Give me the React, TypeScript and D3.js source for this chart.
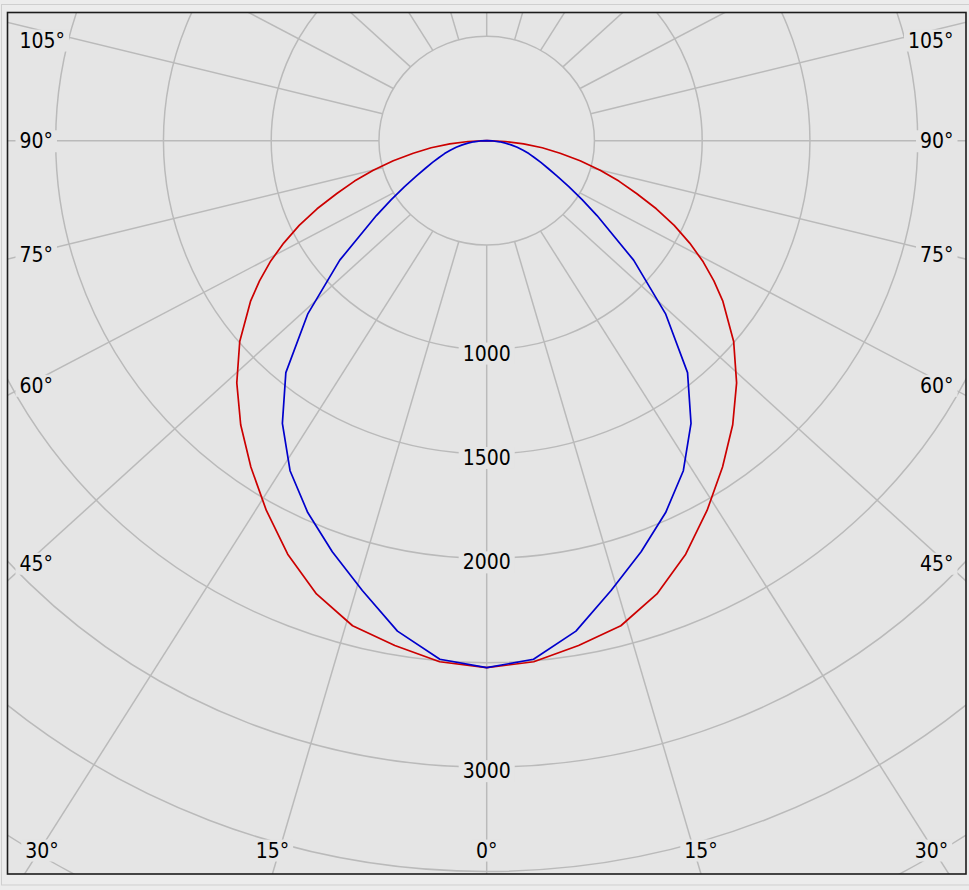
import React, { useEffect, useRef } from "react";
import * as d3 from "d3";

// ---- data ----
const gammaAngles = [0, 5, 10, 15, 20, 25, 30, 35, 40, 45, 50, 55, 57.5, 60, 62.5, 65, 67.5, 70, 72.5, 75, 77.5, 80, 82.5, 85, 87.5, 90];
const redC0C180 = [2524, 2505, 2455, 2405, 2310, 2185, 2045, 1908, 1776, 1640, 1496, 1337, 1250, 1160, 1062, 960, 852, 740, 643, 545, 444, 346, 260, 172, 86, 0];
const blueC90C270 = [2524, 2493, 2385, 2230, 2095, 1965, 1825, 1653, 1450, 1175, 890, 625, 525, 440, 370, 315, 272, 235, 205, 175, 145, 115, 88, 60, 30, 0];
const ringValues = [500, 1000, 1500, 2000, 2500, 3000, 3500, 4000, 4500];
const ringLabels = [1000, 1500, 2000, 3000];
const gridAngles = d3.range(0, 360, 15);
const angleLabels = [0, 15, 30, 45, 60, 75, 90, 105];

const W = 969;
const H = 890;
const CX = 486.7;
const CY = 140.7;
const FONT = "'DejaVu Sans Condensed', 'DejaVu Sans', sans-serif";
const FS = 21;

export default function App() {
  const ref = useRef<SVGSVGElement | null>(null);

  useEffect(() => {
    const svg = d3.select(ref.current);
    svg.selectAll("*").remove();

    const rx = d3.scaleLinear().domain([0, 1000]).range([0, 215.5]);
    const ry = d3.scaleLinear().domain([0, 1000]).range([0, 208.8]);
    const box = { x0: 7.5, y0: 12.5, x1: 966, y1: 874 };

    svg.append("rect").attr("x", 0).attr("y", 0).attr("width", W).attr("height", H).attr("fill", "#ececec");
    svg.append("rect").attr("x", 1.5).attr("y", 4.5).attr("width", W).attr("height", 880.5)
      .attr("fill", "none").attr("stroke", "#cfcfcf").attr("stroke-width", 1);

    const defs = svg.append("defs");
    defs.append("clipPath").attr("id", "plotclip").append("rect")
      .attr("x", box.x0).attr("y", box.y0).attr("width", box.x1 - box.x0).attr("height", box.y1 - box.y0);

    svg.append("rect").attr("x", box.x0).attr("y", box.y0).attr("width", box.x1 - box.x0).attr("height", box.y1 - box.y0)
      .attr("fill", "#e5e5e5");

    const g = svg.append("g").attr("clip-path", "url(#plotclip)");
    const gridColor = "#bababa";

    // rings
    g.selectAll("ellipse.ring").data(ringValues).join("ellipse")
      .attr("class", "ring")
      .attr("cx", CX).attr("cy", CY)
      .attr("rx", (v) => rx(v)).attr("ry", (v) => ry(v))
      .attr("fill", "none").attr("stroke", gridColor).attr("stroke-width", 1.5);

    // radial lines
    const inner = ringValues[0];
    const rad = (a: number) => (a * Math.PI) / 180;
    const lineStart = (a: number) => [CX + rx(inner) * Math.sin(rad(a)), CY + ry(inner) * Math.cos(rad(a))];
    const lineDir = (a: number) => [1.1 * Math.sin(rad(a)), Math.cos(rad(a))];
    g.selectAll("line.radial").data(gridAngles).join("line")
      .attr("class", "radial")
      .attr("x1", (a) => lineStart(a)[0]).attr("y1", (a) => lineStart(a)[1])
      .attr("x2", (a) => lineStart(a)[0] + 2000 * lineDir(a)[0])
      .attr("y2", (a) => lineStart(a)[1] + 2000 * lineDir(a)[1])
      .attr("stroke", gridColor).attr("stroke-width", 1.5);

    const labelsG = g.append("g");
    const addLabel = (text: string, x: number, cy: number, anchor: string) => {
      const lg = labelsG.append("g");
      const bg = lg.append("rect").attr("fill", "#e5e5e5");
      const t = lg.append("text")
        .attr("x", x).attr("y", cy + 0.36 * FS)
        .attr("text-anchor", anchor)
        .attr("font-family", FONT).attr("font-stretch", "condensed")
        .attr("font-size", FS).attr("fill", "#000")
        .text(text);
      const bb = (t.node() as SVGTextElement).getBBox();
      bg.attr("x", bb.x - 4).attr("y", bb.y + 1).attr("width", bb.width + 8).attr("height", bb.height - 2);
    };

    // ring labels
    ringLabels.forEach((v) => addLabel(String(v), CX, CY + ry(v) + 3.5, "middle"));

    // angle labels
    const xSide = 27;
    const bottomMinX = 42;
    angleLabels.forEach((a) => {
      const sides = a === 0 ? [1] : [-1, 1];
      sides.forEach((side) => {
        const s0 = lineStart(a);
        const d0 = lineDir(a);
        const p = [CX + side * (s0[0] - CX), s0[1]];
        const d = [side * d0[0], d0[1]];
        let hitsBottom = false;
        let xb = 0;
        if (d[1] > 1e-6) {
          const tb = (box.y1 - p[1]) / d[1];
          xb = p[0] + tb * d[0];
          if (xb >= box.x0 - 30 && xb <= box.x1 + 30) hitsBottom = true;
        }
        if (hitsBottom) {
          const xc = Math.max(bottomMinX, Math.min(2 * CX - bottomMinX, xb));
          addLabel(`${a}°`, xc, 850, "middle");
        } else {
          const xt = side < 0 ? xSide : 2 * CX - xSide;
          const tt = (xt - p[0]) / d[0];
          const yy = Math.max(40, p[1] + tt * d[1]);
          if (side < 0) addLabel(`${a}°`, 19.5, yy, "start");
          else addLabel(`${a}°`, 953.5, yy, "end");
        }
      });
    });

    // curves
    const curvePoints = (vals: number[]) => {
      const pts: [number, number][] = [];
      for (let i = gammaAngles.length - 1; i >= 0; i--) {
        const t = rad(gammaAngles[i]);
        pts.push([CX - rx(vals[i]) * Math.sin(t), CY + ry(vals[i]) * Math.cos(t)]);
      }
      for (let i = 1; i < gammaAngles.length; i++) {
        const t = rad(gammaAngles[i]);
        pts.push([CX + rx(vals[i]) * Math.sin(t), CY + ry(vals[i]) * Math.cos(t)]);
      }
      return pts;
    };
    const line = d3.line().curve(d3.curveLinear);
    g.append("path").attr("d", line(curvePoints(redC0C180)) as string)
      .attr("fill", "none").attr("stroke", "#cc0000").attr("stroke-width", 1.7).attr("stroke-linejoin", "round");
    g.append("path").attr("d", line(curvePoints(blueC90C270)) as string)
      .attr("fill", "none").attr("stroke", "#0000cc").attr("stroke-width", 1.7).attr("stroke-linejoin", "round");

    // frame
    svg.append("rect").attr("x", box.x0).attr("y", box.y0).attr("width", box.x1 - box.x0).attr("height", box.y1 - box.y0)
      .attr("fill", "none").attr("stroke", "#1c1c1c").attr("stroke-width", 1.6);
  }, []);

  return (
    <svg
      ref={ref}
      width={W}
      height={H}
      style={{ position: "absolute", left: 0, top: 0, display: "block" }}
    />
  );
}
